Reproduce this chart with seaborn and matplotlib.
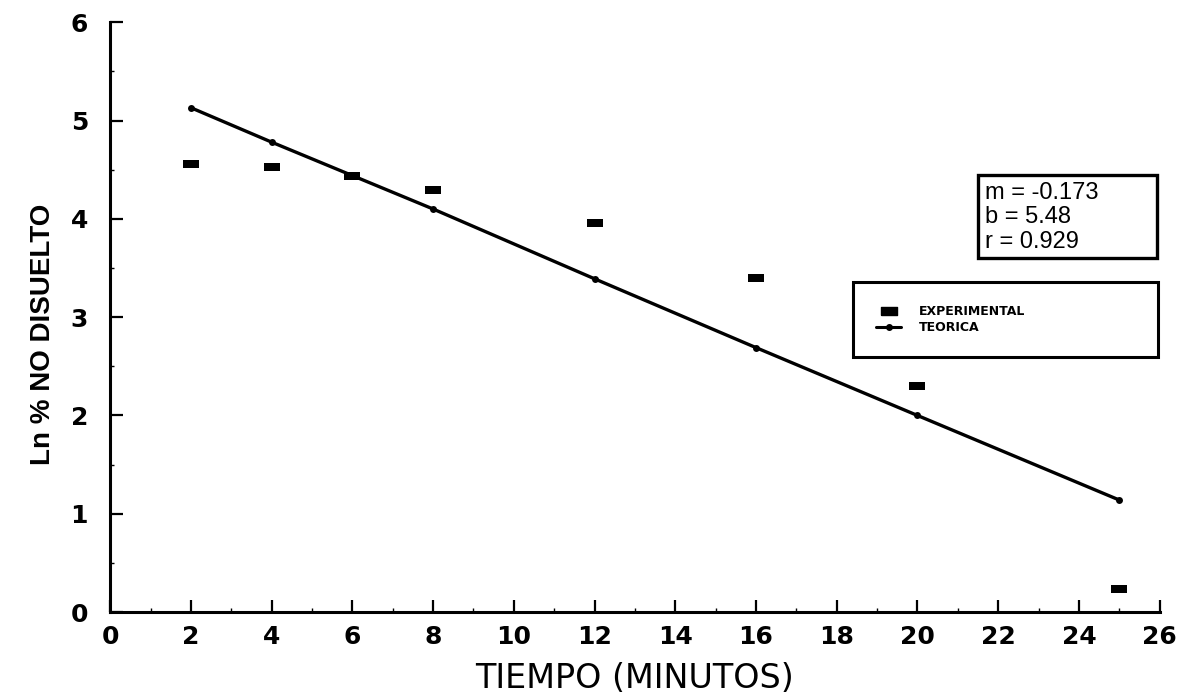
import matplotlib
matplotlib.use("Agg")
import matplotlib.pyplot as plt
import seaborn as sns
import pandas as pd
from matplotlib.lines import Line2D
from matplotlib.patches import Rectangle

tiempo = [2, 4, 6, 8, 12, 16, 20, 25]
experimental = [4.56, 4.53, 4.44, 4.29, 3.96, 3.40, 2.30, 0.23]
teorica = [5.13, 4.78, 4.44, 4.10, 3.39, 2.69, 2.00, 1.14]
x_ticks = list(range(0, 27, 2))
y_ticks = [0, 1, 2, 3, 4, 5, 6]
stats_lines = ["m = -0.173", "b = 5.48", "r = 0.929"]

df = pd.DataFrame({"t": tiempo, "exp": experimental, "teo": teorica})

sns.set_theme(style="ticks")
plt.rcParams["font.family"] = ["DejaVu Sans"]
plt.rcParams["text.color"] = "black"
plt.rcParams["xtick.color"] = "black"
plt.rcParams["ytick.color"] = "black"

fig = plt.figure(figsize=(11.98, 6.94), dpi=100)
ax = fig.add_axes([0.092, 0.118, 0.876, 0.850])

rect = [(-1, -0.55), (1, -0.55), (1, 0.55), (-1, 0.55), (-1, -0.55)]

sns.lineplot(data=df, x="t", y="teo", ax=ax, color="black", linewidth=2.4,
             marker="o", markersize=5, markeredgewidth=0, legend=False)
sns.scatterplot(data=df, x="t", y="exp", ax=ax, color="black", marker=rect,
                s=130, linewidth=0, legend=False, zorder=5)

ax.set_xlim(0, 26)
ax.set_ylim(0, 6)
ax.set_xticks(x_ticks)
ax.set_yticks(y_ticks)
ax.set_xticks([v for v in range(1, 26, 2)], minor=True)
ax.set_yticks([v + 0.5 for v in range(0, 6)], minor=True)
ax.set_xticklabels([str(v) for v in x_ticks], fontsize=18, fontweight="bold",
                   color="black")
ax.set_yticklabels([str(v) for v in y_ticks], fontsize=18, fontweight="bold",
                   color="black")
ax.tick_params(axis="x", which="major", direction="in", length=9, width=1.6,
               color="black", pad=9)
ax.tick_params(axis="y", which="major", direction="in", length=9, width=1.6,
               color="black", pad=16)
ax.tick_params(axis="both", which="minor", direction="in", length=3, width=1.0,
               color="black")

for s in ["top", "right"]:
    ax.spines[s].set_visible(False)
for s in ["left", "bottom"]:
    ax.spines[s].set_linewidth(2.2)
    ax.spines[s].set_color("black")

ax.set_xlabel("TIEMPO (MINUTOS)", fontsize=24, color="black")
ax.xaxis.set_label_coords(0.5, -0.084)
ax.set_ylabel("Ln % NO DISUELTO", fontsize=20, fontweight="bold",
              family=["Liberation Sans", "DejaVu Sans"], color="black")
ax.yaxis.set_label_coords(-0.052, 0.47)

# statistics box
ax.add_patch(Rectangle((0.827, 0.600), 0.170, 0.141, transform=ax.transAxes,
                       facecolor="white", edgecolor="black", linewidth=2.4,
                       zorder=6, clip_on=False))
for i, line in enumerate(stats_lines):
    ax.text(0.834, 0.711 - i * 0.042, line, transform=ax.transAxes,
            fontsize=17, family=["Liberation Sans", "DejaVu Sans"],
            va="center", ha="left", color="black", zorder=7)

handles = [
    Line2D([], [], color="black", marker=rect, linestyle="none", markersize=11),
    Line2D([], [], color="black", marker="o", markersize=4, linewidth=2.2),
]
leg = ax.legend(handles, ["EXPERIMENTAL", "TEORICA"],
                loc="upper left", bbox_to_anchor=(0.708, 0.439, 0.29, 0.12),
                mode="expand", fancybox=False, framealpha=1, edgecolor="black",
                prop=dict(size=9, weight="bold"), borderpad=1.85,
                labelspacing=0.2, handlelength=2.0, handletextpad=1.4,
                borderaxespad=0)
leg.get_frame().set_linewidth(2.2)

fig.savefig("out.png", dpi=100)
